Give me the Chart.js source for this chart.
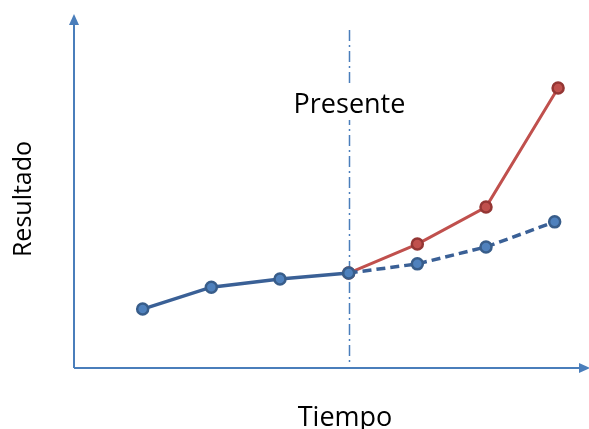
<!DOCTYPE html>
<html>
<head>
<meta charset="utf-8">
<script src="https://cdn.jsdelivr.net/npm/chart.js@4"></script>
<style>
  html, body { margin: 0; padding: 0; background: #fff; }
  #wrap { width: 589px; height: 429px; }
</style>
</head>
<body>
<div id="wrap"><canvas id="chart" width="589" height="429"></canvas></div>
<script>
// datos
const tiempo = [1, 2, 3, 4, 5, 6, 7];
const resultadoAzul = [16.7, 22.9, 25.2, 26.9, 29.5, 34.3, 41.4];
const tiempoRojo = [4, 5, 6, 7.05];
const resultadoRojo = [26.9, 35.1, 45.6, 79.3];
const presente = 4;

const AXIS = '#4a7ebb';
const FONT = '"Open Sans", "Noto Sans", sans-serif';

// ejes con flechas, línea "Presente" y rótulos
const decoPlugin = {
    id: 'deco',
    beforeDatasetsDraw(chart) {
        const { ctx, chartArea: a, scales: { x } } = chart;
        ctx.save();
        ctx.strokeStyle = AXIS;
        ctx.fillStyle = AXIS;
        ctx.lineWidth = 2;
        // eje Y
        ctx.beginPath();
        ctx.moveTo(a.left, a.bottom);
        ctx.lineTo(a.left, a.top + 8);
        ctx.stroke();
        ctx.beginPath();
        ctx.moveTo(a.left, a.top - 1);
        ctx.lineTo(a.left - 5, a.top + 10);
        ctx.lineTo(a.left + 5, a.top + 10);
        ctx.closePath();
        ctx.fill();
        // eje X
        ctx.beginPath();
        ctx.moveTo(a.left, a.bottom);
        ctx.lineTo(a.right - 8, a.bottom);
        ctx.stroke();
        ctx.beginPath();
        ctx.moveTo(a.right + 1, a.bottom);
        ctx.lineTo(a.right - 10, a.bottom - 5);
        ctx.lineTo(a.right - 10, a.bottom + 5);
        ctx.closePath();
        ctx.fill();
        // línea del presente
        const px = Math.round(x.getPixelForValue(presente)) + 0.5;
        ctx.lineWidth = 1.5;
        ctx.setLineDash([11, 4, 2, 4]);
        ctx.beginPath();
        ctx.moveTo(px, 30);
        ctx.lineTo(px, a.bottom - 6);
        ctx.stroke();
        ctx.setLineDash([]);
        // textos
        ctx.textAlign = 'center';
        ctx.textBaseline = 'alphabetic';
        ctx.font = '27px ' + FONT;
        ctx.fillStyle = '#fff';
        ctx.fillRect(px - 66, 84, 132, 36);
        ctx.fillStyle = '#000';
        ctx.fillText('Presente', px, 113);
        ctx.font = '27px ' + FONT;
        ctx.fillText('Tiempo', 345, 426);
        ctx.font = '25px ' + FONT;
        ctx.translate(31, 199);
        ctx.rotate(-Math.PI / 2);
        ctx.fillText('Resultado', 0, 0);
        ctx.restore();
    }
};

new Chart(document.getElementById('chart'), {
    type: 'line',
    data: {
        datasets: [
            {
                data: tiempo.map((t, i) => ({ x: t, y: resultadoAzul[i] })),
                borderColor: '#3a6096',
                borderWidth: 3.5,
                pointRadius: 5.5,
                pointBorderWidth: 2.5,
                pointBackgroundColor: '#4f81bd',
                pointBorderColor: '#385d8a',
                segment: {
                    borderDash: c => c.p0.parsed.x >= presente ? [9, 5] : undefined
                },
                order: 0
            },
            {
                data: tiempoRojo.map((t, i) => ({ x: t, y: resultadoRojo[i] })),
                borderColor: '#c0504d',
                borderWidth: 3,
                pointRadius: 5.5,
                pointBorderWidth: 2.5,
                pointBackgroundColor: '#c0504d',
                pointBorderColor: '#943634',
                order: 1
            }
        ]
    },
    options: {
        responsive: false,
        animation: false,
        layout: { autoPadding: false, padding: { left: 74, right: 0, top: 15, bottom: 61 } },
        scales: {
            x: { type: 'linear', min: 0, max: 7.5, display: false },
            y: { min: 0, max: 100, display: false }
        },
        plugins: {
            legend: { display: false },
            tooltip: { enabled: false }
        }
    },
    plugins: [decoPlugin]
});
</script>
</body>
</html>
